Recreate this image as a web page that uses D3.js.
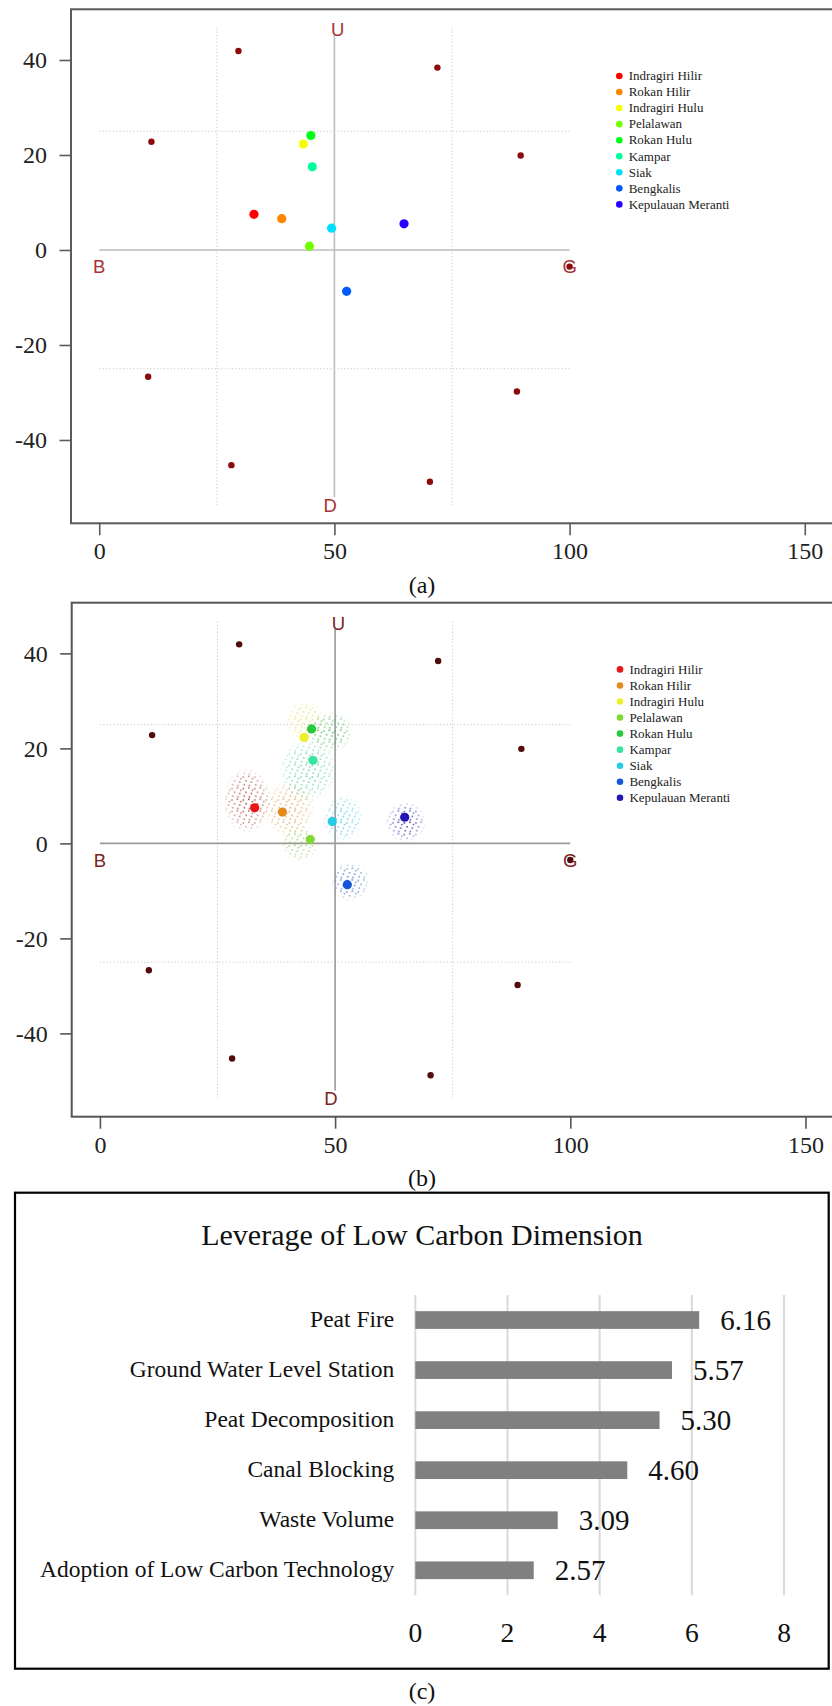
<!DOCTYPE html>
<html>
<head>
<meta charset="utf-8">
<script src="https://cdn.jsdelivr.net/npm/d3@7"></script>
<style>
  body { margin: 0; background: #fff; }
  svg { display: block; }
</style>
</head>
<body>
<svg id="fig" width="832" height="1706"></svg>
<script>
// ---- Ordination data (RAPFISH-style, low carbon dimension) ----
const regions = ["Indragiri Hilir", "Rokan Hilir", "Indragiri Hulu", "Pelalawan", "Rokan Hulu",
                 "Kampar", "Siak", "Bengkalis", "Kepulauan Meranti"];
const regionX = [32.9, 38.8, 43.4, 44.7, 45.0, 45.3, 49.4, 52.6, 64.8];
const regionY = [7.5, 6.6, 22.3, 0.8, 24.1, 17.5, 4.6, -8.7, 5.5];
const colorsA = ["#ff0000", "#ff8500", "#f4ff00", "#70ff00", "#00ff15", "#00ff9a", "#00dfff", "#005aff", "#2a00ff"];
const colorsB = ["#e81418", "#e48a1c", "#eeee2a", "#80d832", "#28c83a", "#36e6a0", "#26cce6", "#1656d8", "#2414b4"];
const cloudColors = ["#a43636", "#dc9c44", "#e2dc50", "#90c850", "#40b450", "#4cc8a4", "#40c4d8", "#3470c4", "#3022a4"];

// Monte Carlo scatter extent per region: centre and half-spread (scale units)
const cloudCX = [31.3, 40.2, 43.6, 42.5, 49.0, 44.3, 51.6, 53.2, 65.0];
const cloudCY = [9.0, 7.2, 25.8, 0.0, 23.5, 15.4, 5.3, -8.0, 4.5];
const cloudRX = [5.2, 5.6, 4.4, 4.2, 5.0, 6.3, 4.5, 4.2, 4.3];
const cloudRY = [7.0, 6.0, 4.4, 4.0, 4.4, 6.8, 5.0, 4.2, 4.3];

// Reference (anchor) points
const anchorX = [29.6, 11.1, 71.9, 89.6, 10.4, 28.1, 70.3, 88.8, 100];
const anchorY = [41.9, 22.8, 38.4, 19.9, -26.7, -45.3, -48.8, -29.8, -3.5];

// Pole labels: Bad, Good, Up, Down
const poleText = ["B", "G", "U", "D"];
const poleX = [0, 100, 50.7, 49.1];
const poleY = [-3.5, -3.5, 46.4, -53.7];

const xTicks = [0, 50, 100, 150];
const yTicks = [-40, -20, 0, 20, 40];
const quarterX = [25, 75];
const quarterY = [25, -25];
const scaleTop = 46.7, scaleBottom = -53.7;

// ---- Leverage data ----
const leverageFactors = ["Peat Fire", "Ground Water Level Station", "Peat Decomposition",
                         "Canal Blocking", "Waste Volume", "Adoption of Low Carbon Technology"];
const leverageValues = [6.16, 5.57, 5.30, 4.60, 3.09, 2.57];
const leverageTicks = [0, 2, 4, 6, 8];

const SERIF = "'Liberation Serif', 'Times New Roman', Times, serif";
const SANS = "'Liberation Sans', Arial, Helvetica, sans-serif";

const svg = d3.select("#fig");
const defs = svg.append("defs");

// radial fade used to thin out the scatter towards its edge
const fade = defs.append("radialGradient").attr("id", "fadeGrad");
fade.append("stop").attr("offset", "0").attr("stop-color", "#fff");
fade.append("stop").attr("offset", "0.7").attr("stop-color", "#a8a8a8");
fade.append("stop").attr("offset", "1").attr("stop-color", "#000");
defs.append("mask").attr("id", "fadeMask").attr("maskContentUnits", "objectBoundingBox")
  .append("rect").attr("width", 1).attr("height", 1).attr("fill", "url(#fadeGrad)");

// speckle texture, one per region colour
const speck = [[1.2, 1.8], [6.6, 1.1], [3.9, 5.6], [9.1, 6.9], [2.1, 9.4], [7.2, 10.1], [10.2, 3.4]];
cloudColors.forEach((c, i) => {
  const p = defs.append("pattern").attr("id", "speck" + i)
    .attr("patternUnits", "userSpaceOnUse").attr("width", 11.5).attr("height", 11.5);
  p.selectAll("circle").data(speck).join("circle")
    .attr("cx", d => d[0]).attr("cy", d => d[1]).attr("r", 0.85).attr("fill", c);
});

function ordination(top, dx, opt) {
  const g = svg.append("g").attr("transform", `translate(${dx},${top})`);
  const x = d3.scaleLinear().domain([-6, 156]).range([71, 833]);
  const y = d3.scaleLinear().domain([-57.54, 50.67]).range([514, 0]);

  // quarter guides
  g.selectAll(".qv").data(quarterX).join("line")
    .attr("x1", d => x(d)).attr("x2", d => x(d))
    .attr("y1", y(scaleTop)).attr("y2", y(scaleBottom))
    .attr("stroke", "#c9c9c9").attr("stroke-width", 1).attr("stroke-dasharray", "1.2,2.2");
  g.selectAll(".qh").data(quarterY).join("line")
    .attr("x1", x(0)).attr("x2", x(100))
    .attr("y1", d => y(d)).attr("y2", d => y(d))
    .attr("stroke", "#c9c9c9").attr("stroke-width", 1).attr("stroke-dasharray", "1.2,2.2");

  // main bad-good and down-up lines
  g.append("line").attr("x1", x(0)).attr("x2", x(100)).attr("y1", y(0)).attr("y2", y(0))
    .attr("stroke", opt.axisLine).attr("stroke-width", 1.6);
  g.append("line").attr("x1", x(50)).attr("x2", x(50)).attr("y1", y(45.3)).attr("y2", y(-52))
    .attr("stroke", opt.axisLine).attr("stroke-width", 1.6);

  if (opt.clouds) {
    g.selectAll(".cloud").data(regions).join("ellipse")
      .attr("cx", (d, i) => x(cloudCX[i])).attr("cy", (d, i) => y(cloudCY[i]))
      .attr("rx", (d, i) => x(cloudRX[i]) - x(0)).attr("ry", (d, i) => y(0) - y(cloudRY[i]))
      .attr("fill", (d, i) => `url(#speck${i})`).attr("mask", "url(#fadeMask)");
  }

  // anchors
  g.selectAll(".anchor").data(anchorX).join("circle")
    .attr("cx", d => x(d)).attr("cy", (d, i) => y(anchorY[i])).attr("r", 3.2)
    .attr("fill", opt.anchor);

  // pole labels
  g.selectAll(".pole").data(poleText).join("text")
    .attr("x", (d, i) => x(poleX[i])).attr("y", (d, i) => y(poleY[i]))
    .attr("dy", "0.36em").attr("text-anchor", "middle")
    .attr("font-family", SANS).attr("font-size", 18.5).attr("fill", opt.pole).text(d => d);
  // good anchor dot sits over its label
  g.append("circle").attr("cx", x(anchorX[8])).attr("cy", y(anchorY[8])).attr("r", 2.4).attr("fill", opt.anchor);

  // regions
  g.selectAll(".region").data(regions).join("circle")
    .attr("cx", (d, i) => x(regionX[i])).attr("cy", (d, i) => y(regionY[i])).attr("r", 4.6)
    .attr("fill", (d, i) => opt.colors[i]);

  // legend
  const lg = g.append("g");
  lg.selectAll("circle").data(regions).join("circle")
    .attr("cx", 619.3).attr("cy", (d, i) => 66.7 + 16.05 * i).attr("r", 3.3)
    .attr("fill", (d, i) => opt.colors[i]);
  lg.selectAll("text").data(regions).join("text")
    .attr("x", 628.7).attr("y", (d, i) => 66.7 + 16.05 * i).attr("dy", "0.33em")
    .attr("font-family", SERIF).attr("font-size", 13).attr("fill", "#222").text(d => d);

  // frame
  g.append("rect").attr("x", x(-6)).attr("y", 0).attr("width", x(156) - x(-6)).attr("height", 514)
    .attr("fill", "none").attr("stroke", opt.frame).attr("stroke-width", 2);

  // axes
  const ax = g.append("g").attr("transform", `translate(0,514)`)
    .call(d3.axisBottom(x).tickValues(xTicks).tickSize(12).tickPadding(7).tickFormat(d => String(d)));
  const ay = g.append("g").attr("transform", `translate(${x(-6)},0)`)
    .call(d3.axisLeft(y).tickValues(yTicks).tickSize(11.5).tickPadding(12.5).tickFormat(d => String(d)));
  [ax, ay].forEach(a => {
    a.select(".domain").remove();
    a.selectAll(".tick line").attr("stroke", opt.frame).attr("stroke-width", 1.6);
    a.selectAll(".tick text").attr("font-family", SERIF).attr("font-size", 24).attr("fill", "#222");
  });
}

ordination(9.3, 0, { colors: colorsA, anchor: "#8b0a0a", pole: "#a83434", axisLine: "#bdbdbd", frame: "#5a5a5a", clouds: false });
ordination(602.7, 0.7, { colors: colorsB, anchor: "#520a0a", pole: "#7c2424", axisLine: "#9a9a9a", frame: "#555", clouds: true });

// panel captions
const captions = [["(a)", 585], ["(b)", 1178], ["(c)", 1691]];
svg.selectAll(".cap").data(captions).join("text")
  .attr("x", 422).attr("y", d => d[1]).attr("dy", "0.33em").attr("text-anchor", "middle")
  .attr("font-family", SERIF).attr("font-size", 24).attr("fill", "#111").text(d => d[0]);

// ---- Leverage bar chart ----
const lev = svg.append("g");
lev.append("rect").attr("x", 15).attr("y", 1192.7).attr("width", 813.7).attr("height", 476)
  .attr("fill", "none").attr("stroke", "#000").attr("stroke-width", 2.2);
lev.append("text").attr("x", 422).attr("y", 1245).attr("text-anchor", "middle")
  .attr("font-family", SERIF).attr("font-size", 30).attr("fill", "#111")
  .text("Leverage of Low Carbon Dimension");

const lx = d3.scaleLinear().domain([0, 8]).range([415.3, 784]);
const ly = d3.scaleBand().domain(leverageFactors).range([1295, 1595.3]).paddingInner(0.646).paddingOuter(0.323);

lev.selectAll(".grid").data(leverageTicks).join("line")
  .attr("x1", d => lx(d)).attr("x2", d => lx(d)).attr("y1", 1295).attr("y2", 1595.3)
  .attr("stroke", "#d9d9d9").attr("stroke-width", 2);

lev.selectAll(".bar").data(leverageFactors).join("rect")
  .attr("x", lx(0)).attr("y", d => ly(d))
  .attr("width", (d, i) => lx(leverageValues[i]) - lx(0)).attr("height", ly.bandwidth())
  .attr("fill", "#808080");

lev.selectAll(".cat").data(leverageFactors).join("text")
  .attr("x", 394.3).attr("y", d => ly(d) + ly.bandwidth() / 2).attr("dy", "0.3em")
  .attr("text-anchor", "end").attr("font-family", SERIF).attr("font-size", 23.5).attr("fill", "#111")
  .text(d => d);

lev.selectAll(".val").data(leverageFactors).join("text")
  .attr("x", (d, i) => lx(leverageValues[i]) + 21).attr("y", d => ly(d) + ly.bandwidth() / 2).attr("dy", "0.33em")
  .attr("font-family", SERIF).attr("font-size", 29).attr("fill", "#111")
  .text((d, i) => leverageValues[i].toFixed(2));

lev.selectAll(".tickLab").data(leverageTicks).join("text")
  .attr("x", d => lx(d)).attr("y", 1642).attr("text-anchor", "middle")
  .attr("font-family", SERIF).attr("font-size", 27.5).attr("fill", "#111").text(d => d);
</script>
</body>
</html>
